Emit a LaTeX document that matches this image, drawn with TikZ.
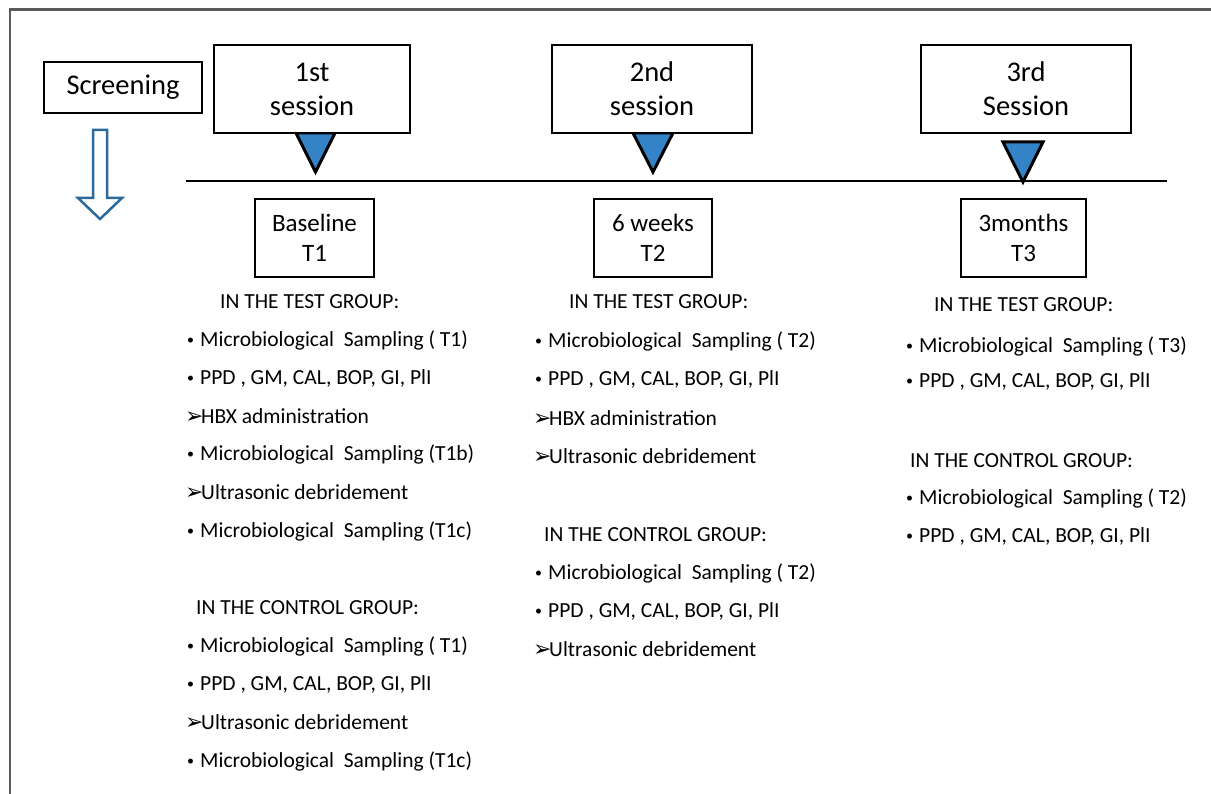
\documentclass[tikz,border=0pt]{standalone}
\usepackage{fontspec}
\setmainfont{Carlito}
\newfontfamily\djv{DejaVu Sans}
\newcommand{\bul}[1]{\makebox[13pt][l]{\raisebox{1.5pt}{\fontsize{14}{14}\selectfont •}}#1}
\newcommand{\arr}[1]{\makebox[16pt][l]{\djv\fontsize{22}{22}\selectfont ➢}#1}
\definecolor{triblue}{HTML}{3483C6}
\definecolor{arrblue}{HTML}{2A6A9C}
\definecolor{framegray}{HTML}{5A5A5A}
\tikzset{
  box/.style={draw=black, line width=1.8pt, fill=white, align=center, inner sep=0pt, font=\fontsize{28.5}{34}\selectfont},
  tbox/.style={box, font=\fontsize{25}{30.5}\selectfont},
  tri/.style={draw=black, line width=3pt, fill=triblue, line join=miter},
  item/.style={anchor=west, inner sep=0pt, font=\fontsize{21.5}{25}\selectfont},
}
\begin{document}
\begin{tikzpicture}[x=1pt,y=-1pt]
\useasboundingbox (0,0) rectangle (1211,794);
% frame
\draw[framegray, line width=2.5pt] (10,800) -- (10,9.5) -- (1220,9.5);
% timeline
\coordinate (tl0) at (186,181);
\coordinate (tl1) at (1167,181);
\draw[line width=1.8pt] (tl0) -- (tl1);
% triangles
\draw[tri] (296,133) -- (335,133) -- (315.5,172) -- cycle;
\draw[tri] (633,133) -- (673,133) -- (653,172) -- cycle;
\draw[tri] (1003,142) -- (1043,142) -- (1023,182) -- cycle;
% boxes
\node[box, minimum width=158pt, minimum height=51pt] (scr) at (123,87.5) {Screening};
\node[box, minimum width=196pt, minimum height=88pt] (s1) at (312,89) {1st\\session};
\node[box, minimum width=200pt, minimum height=88pt] (s2) at (652,89) {2nd\\session};
\node[box, minimum width=210pt, minimum height=88pt] (s3) at (1026,89) {3rd\\Session};
\node[tbox, minimum width=119pt, minimum height=78pt] (b1) at (314.5,238) {Baseline\\T1};
\node[tbox, minimum width=118pt, minimum height=78pt] (b2) at (653,238) {6 weeks\\T2};
\node[tbox, minimum width=125pt, minimum height=78pt] (b3) at (1023.5,238) {3months\\T3};
% hollow arrow
\draw[arrblue, line width=2.5pt, fill=white, line join=miter]
  (93,130) -- (107,130) -- (107,198) -- (122,198) -- (100,219) -- (78,198) -- (93,198) -- cycle;
% column 1
\node[item] (c1h) at (220,302) {IN THE TEST GROUP:};
\node[item] (c1a) at (187,340) {\bul{Microbiological\ \ Sampling ( T1)}};
\node[item] (c1b) at (187,378) {\bul{PPD , GM, CAL, BOP, GI, PlI}};
\node[item] (c1c) at (185,416) {\arr{HBX administration}};
\node[item] (c1d) at (187,454) {\bul{Microbiological\ \ Sampling (T1b)}};
\node[item] (c1e) at (185,492) {\arr{Ultrasonic debridement}};
\node[item] (c1f) at (187,531) {\bul{Microbiological\ \ Sampling (T1c)}};
\node[item] (c1H) at (196,608) {IN THE CONTROL GROUP:};
\node[item] (c1g) at (187,646) {\bul{Microbiological\ \ Sampling ( T1)}};
\node[item] (c1i) at (187,684) {\bul{PPD , GM, CAL, BOP, GI, PlI}};
\node[item] (c1j) at (185,722) {\arr{Ultrasonic debridement}};
\node[item] (c1k) at (187,761) {\bul{Microbiological\ \ Sampling (T1c)}};
% column 2
\node[item] (c2h) at (569,302) {IN THE TEST GROUP:};
\node[item] (c2a) at (535,341) {\bul{Microbiological\ \ Sampling ( T2)}};
\node[item] (c2b) at (535,379) {\bul{PPD , GM, CAL, BOP, GI, PlI}};
\node[item] (c2c) at (533,418) {\arr{HBX administration}};
\node[item] (c2d) at (533,456) {\arr{Ultrasonic debridement}};
\node[item] (c2H) at (544,535) {IN THE CONTROL GROUP:};
\node[item] (c2e) at (535,573) {\bul{Microbiological\ \ Sampling ( T2)}};
\node[item] (c2f) at (535,611) {\bul{PPD , GM, CAL, BOP, GI, PlI}};
\node[item] (c2g) at (533,649) {\arr{Ultrasonic debridement}};
% column 3
\node[item] (c3h) at (934,305) {IN THE TEST GROUP:};
\node[item] (c3a) at (906,346) {\bul{Microbiological\ \ Sampling ( T3)}};
\node[item] (c3b) at (906,381) {\bul{PPD , GM, CAL, BOP, GI, PlI}};
\node[item] (c3H) at (910,461) {IN THE CONTROL GROUP:};
\node[item] (c3c) at (906,498) {\bul{Microbiological\ \ Sampling ( T2)}};
\node[item] (c3d) at (906,536) {\bul{PPD , GM, CAL, BOP, GI, PlI}};
\end{tikzpicture}
\end{document}
